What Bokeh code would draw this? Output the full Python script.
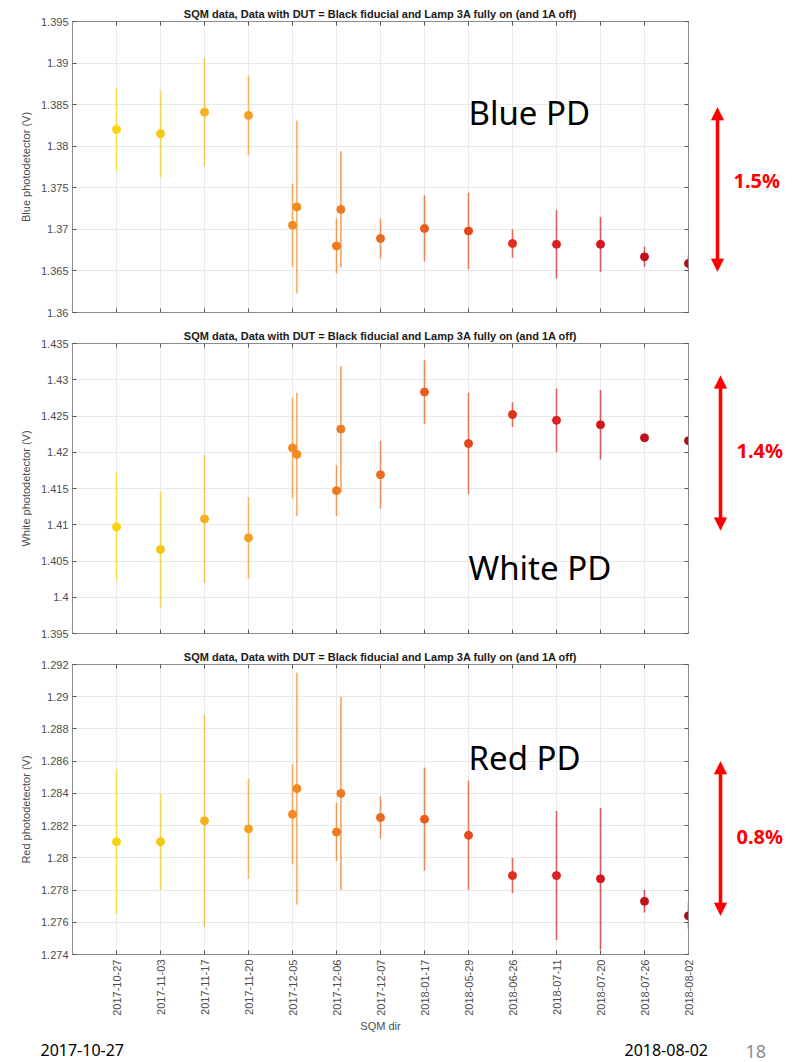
import math
from bokeh.plotting import figure
from bokeh.layouts import column, row
from bokeh.models import (FixedTicker, LinearAxis, Label, PolyAnnotation,
                          Range1d, ColumnDataSource)
from bokeh.embed import file_html
from bokeh.resources import INLINE

# ---------------- data ----------------
dates = ["2017-10-27", "2017-11-03", "2017-11-17", "2017-11-20", "2017-12-05",
         "2017-12-06", "2017-12-07", "2018-01-17", "2018-05-29", "2018-06-26",
         "2018-07-11", "2018-07-20", "2018-07-26", "2018-08-02"]

# one entry per SQM dir (two dirs on 2017-12-05 and on 2017-12-06)
point_dates = ["2017-10-27", "2017-11-03", "2017-11-17", "2017-11-20",
               "2017-12-05", "2017-12-05", "2017-12-06", "2017-12-06",
               "2017-12-07", "2018-01-17", "2018-05-29", "2018-06-26",
               "2018-07-11", "2018-07-20", "2018-07-26", "2018-08-02"]

blue_v = [1.3820, 1.3815, 1.3841, 1.3837, 1.3705, 1.3727, 1.3680, 1.3724,
          1.3689, 1.3701, 1.3698, 1.3683, 1.3682, 1.3682, 1.3667, 1.3659]
blue_e = [0.0050, 0.0052, 0.0065, 0.0048, 0.0050, 0.0104, 0.0033, 0.0070,
          0.0024, 0.0040, 0.0046, 0.0017, 0.0041, 0.0033, 0.0012, 0.0010]

white_v = [1.4097, 1.4066, 1.4108, 1.4082, 1.4206, 1.4197, 1.4147, 1.4232,
           1.4169, 1.4283, 1.4212, 1.4252, 1.4244, 1.4238, 1.4220, 1.4216]
white_e = [0.0075, 0.0080, 0.0088, 0.0056, 0.0069, 0.0085, 0.0035, 0.0087,
           0.0047, 0.0044, 0.0070, 0.0017, 0.0044, 0.0048, 0.0005, 0.0005]

red_v = [1.2810, 1.2810, 1.2823, 1.2818, 1.2827, 1.2843, 1.2816, 1.2840,
         1.2825, 1.2824, 1.2814, 1.2789, 1.2789, 1.2787, 1.2773, 1.2764]
red_e = [0.0045, 0.0030, 0.0066, 0.0031, 0.0031, 0.0072, 0.0018, 0.0060,
         0.0013, 0.0032, 0.0034, 0.0011, 0.0040, 0.0044, 0.0007, 0.0008]

point_colors = ["#F7D50A", "#F5C810", "#F5B01A", "#F5A020", "#F28A20", "#F28A20",
                "#EE7A1E", "#EE7A1E", "#EC6A1E", "#EA5A1C", "#E8461C", "#E2301A",
                "#DE2020", "#D41620", "#C40F1E", "#AC0F1E"]

blue_ticks = [1.36, 1.365, 1.37, 1.375, 1.38, 1.385, 1.39, 1.395]
white_ticks = [1.395, 1.40, 1.405, 1.41, 1.415, 1.42, 1.425, 1.43, 1.435]
red_ticks = [1.274, 1.276, 1.278, 1.28, 1.282, 1.284, 1.286, 1.288, 1.29, 1.292]

title_text = "SQM data, Data with DUT = Black fiducial and Lamp 3A fully on (and 1A off)"

# x positions: index of the date (1-based), second dir of a day nudged right
xs = []
seen = {}
for d in point_dates:
    k = seen.get(d, 0)
    xs.append(dates.index(d) + 1 + 0.1 * k)
    seen[d] = k + 1

FONT = "Liberation Sans"
BIG = "Noto Sans"
RED = "#FF0000"
TICK_COL = "#4d4d4d"
BOX_COL = "#8c8c8c"
MAIN_W = 700
SIDE_W = 804 - MAIN_W
TOP_B = 21


def fmt(t):
    return f"{round(t, 4):g}"


def hidden_axis(ticker):
    return LinearAxis(ticker=ticker, major_label_overrides={}, major_label_text_font_size="1px",
                      major_label_text_alpha=0, major_label_standoff=0,
                      major_tick_in=4, major_tick_out=0, minor_tick_line_color=None,
                      axis_line_color=BOX_COL, major_tick_line_color="#555555")


def make_panel(vals, errs, ticks, ylabel, height, bottom_border, show_xlabels):
    yr = Range1d(ticks[0], ticks[-1])
    p = figure(width=MAIN_W, height=height, output_backend="svg", toolbar_location=None,
               x_range=Range1d(0, len(dates)), y_range=yr,
               min_border_left=72, min_border_right=12, min_border_top=TOP_B,
               min_border_bottom=bottom_border)
    p.title.text = title_text
    p.title.align = "center"
    p.title.text_font = FONT
    p.title.text_font_size = "11px"
    p.title.text_font_style = "bold"
    p.title.text_color = "#1a1a1a"
    p.title.standoff = 3
    p.outline_line_color = BOX_COL
    p.outline_line_width = 1

    xt = FixedTicker(ticks=list(range(1, len(dates) + 1)))
    yt = FixedTicker(ticks=ticks)
    xover = {i + 1: d for i, d in enumerate(dates)}
    yover = {t: fmt(t) for t in ticks}

    xa = p.xaxis[0]
    xa.ticker = xt
    xa.axis_line_color = BOX_COL
    xa.major_tick_line_color = "#555555"
    xa.major_tick_in = 4
    xa.major_tick_out = 0
    xa.minor_tick_line_color = None
    if show_xlabels:
        xa.major_label_overrides = xover
        xa.major_label_orientation = math.pi / 2
        xa.major_label_text_font = FONT
        xa.major_label_text_font_size = "11px"
        xa.major_label_text_color = TICK_COL
        xa.major_label_standoff = 5
        xa.axis_label = "SQM dir"
        xa.axis_label_text_font = FONT
        xa.axis_label_text_font_size = "11px"
        xa.axis_label_text_font_style = "normal"
        xa.axis_label_text_color = TICK_COL
        xa.axis_label_standoff = 1
    else:
        xa.major_label_text_font_size = "1px"
        xa.major_label_text_alpha = 0
        xa.major_label_standoff = 0

    ya = p.yaxis[0]
    ya.ticker = yt
    ya.major_label_overrides = yover
    ya.axis_line_color = BOX_COL
    ya.major_tick_line_color = "#555555"
    ya.major_tick_in = 4
    ya.major_tick_out = 0
    ya.minor_tick_line_color = None
    ya.major_label_text_font = FONT
    ya.major_label_text_font_size = "11px"
    ya.major_label_text_color = TICK_COL
    ya.major_label_standoff = 4
    ya.axis_label = ylabel
    ya.axis_label_text_font = FONT
    ya.axis_label_text_font_size = "11px"
    ya.axis_label_text_font_style = "normal"
    ya.axis_label_text_color = TICK_COL
    ya.axis_label_standoff = 6

    # inward ticks on the right and on top (box style)
    p.add_layout(hidden_axis(yt), "right")
    p.add_layout(hidden_axis(xt), "above")

    p.xgrid.ticker = xt
    p.ygrid.ticker = yt
    p.xgrid.grid_line_color = "#e9e9e9"
    p.ygrid.grid_line_color = "#e9e9e9"

    src = ColumnDataSource(dict(
        x=xs, v=vals, lo=[a - b for a, b in zip(vals, errs)],
        hi=[a + b for a, b in zip(vals, errs)], c=point_colors))
    p.segment(x0="x", y0="lo", x1="x", y1="hi", source=src, line_color="c",
              line_width=1.6, line_alpha=0.7)
    p.scatter(x="x", y="v", source=src, size=8, fill_color="c", line_color="c")

    # side strip sharing the y range: holds the red span arrow and percentage
    s = figure(width=SIDE_W, height=height, output_backend="svg", toolbar_location=None,
               title=None, x_range=Range1d(0, SIDE_W), y_range=yr, x_axis_location=None,
               y_axis_location=None, min_border_left=0, min_border_right=0,
               min_border_top=TOP_B, min_border_bottom=bottom_border)
    s.outline_line_color = None
    s.grid.visible = False
    return p, s


def add_annot(p, s, ticks, frame_h, name, name_y, pct, pct_y, ax, a_top, a_bot):
    p.add_layout(Label(x=9, y=name_y, text=name, text_font=BIG, text_font_size="33px",
                       text_color="black", text_baseline="alphabetic"))
    s.add_layout(Label(x=ax + 16, y=pct_y, text=pct, text_font=BIG, text_font_size="20px",
                       text_font_style="bold", text_color=RED, text_baseline="middle"))
    uy = (ticks[-1] - ticks[0]) / frame_h           # data units per pixel (y)
    hw, sw, hl = 6.5, 1.7, 13 * uy
    pxs = [ax, ax + hw, ax + sw, ax + sw, ax + hw, ax, ax - hw, ax - sw, ax - sw, ax - hw]
    pys = [a_top, a_top - hl, a_top - hl, a_bot + hl, a_bot + hl, a_bot,
           a_bot + hl, a_bot + hl, a_top - hl, a_top - hl]
    s.add_layout(PolyAnnotation(xs=pxs, ys=pys, fill_color=RED, fill_alpha=1.0,
                                line_color=RED, line_width=0.5))


p1, s1 = make_panel(blue_v, blue_e, blue_ticks, "Blue photodetector (V)", 322, 10, False)
p2, s2 = make_panel(white_v, white_e, white_ticks, "White photodetector (V)", 321, 10, False)
p3, s3 = make_panel(red_v, red_e, red_ticks, "Red photodetector (V)", 393, 82, True)

# bottom strip with the slide's date range and page number
BOT_H = 1062 - (322 + 321 + 393)
b = figure(width=804, height=BOT_H, output_backend="svg", toolbar_location=None,
           title=None, x_range=Range1d(0, 804), y_range=Range1d(0, BOT_H),
           x_axis_location=None, y_axis_location=None, min_border=0,
           min_border_left=0, min_border_right=0, min_border_top=0, min_border_bottom=0)
b.outline_line_color = None
b.grid.visible = False
b.add_layout(Label(x=40, y=BOT_H / 2, text=dates[0], text_font=BIG, text_font_size="16px",
                   text_color="black", text_baseline="middle"))
b.add_layout(Label(x=624, y=BOT_H / 2, text=dates[-1], text_font=BIG, text_font_size="16px",
                   text_color="black", text_baseline="middle"))
b.add_layout(Label(x=745, y=BOT_H / 2 - 2, text="18", text_font=BIG, text_font_size="18px",
                   text_color="#8c8c8c", text_baseline="middle"))

add_annot(p1, s1, blue_ticks, 291, "Blue PD", 1.3840, "1.5%", 1.3759, 17, 1.3847, 1.3649)
add_annot(p2, s2, white_ticks, 290, "White PD", 1.4041, "1.4%", 1.4202, 20, 1.4306, 1.4092)
add_annot(p3, s3, red_ticks, 290, "Red PD", 1.2862, "0.8%", 1.2813, 20, 1.2860, 1.2764)

layout = column(row(p1, s1, spacing=0), row(p2, s2, spacing=0), row(p3, s3, spacing=0),
                b, spacing=0)
open("out.html", "w").write(file_html(layout, INLINE))
